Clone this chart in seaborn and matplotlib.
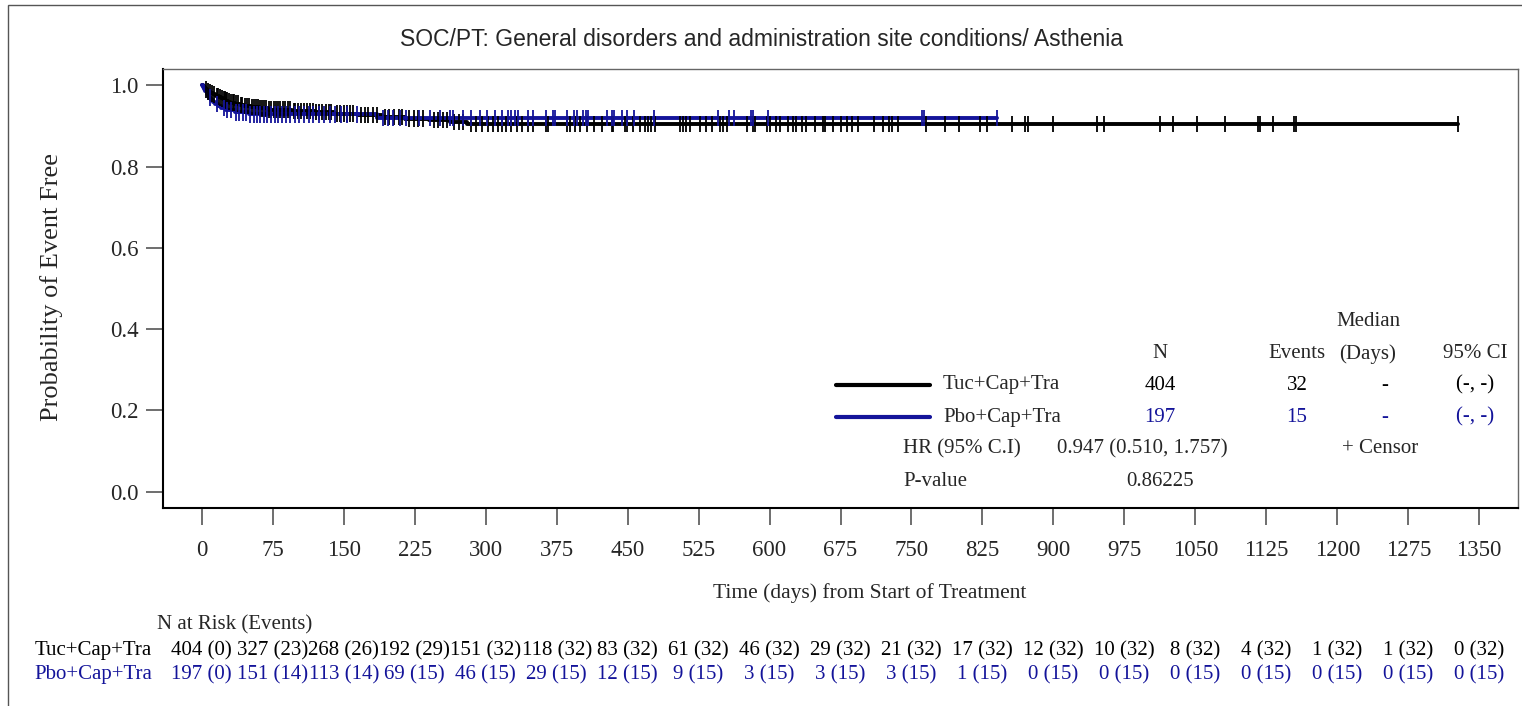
import numpy as np
import pandas as pd
import seaborn as sns
import matplotlib.pyplot as plt
import matplotlib.transforms as mtransforms
from matplotlib.lines import Line2D
from matplotlib.patches import Rectangle

title = "SOC/PT: General disorders and administration site conditions/ Asthenia"
arm_names = ["Tuc+Cap+Tra", "Pbo+Cap+Tra"]
arm_colors = ["black", "#14149a"]

# step points: event day and survival after it
tuc_days = [0, 1, 2, 3, 5, 6, 8, 10, 12, 14, 15, 18, 20, 22, 25, 28, 30, 35, 40, 45,
            52, 60, 70, 95, 120, 140, 165, 190, 215, 240, 262, 280]
tuc_surv = [1.0, 0.9975, 0.9950, 0.9901, 0.9876, 0.9851, 0.9826, 0.9801, 0.9776, 0.9751,
            0.9726, 0.9701, 0.9676, 0.9651, 0.9625, 0.9599, 0.9573, 0.9546, 0.9519, 0.9491,
            0.9462, 0.9433, 0.9403, 0.9372, 0.9340, 0.9305, 0.9265, 0.9222, 0.9178, 0.9140,
            0.9095, 0.9050]
tuc_censor = [4, 7, 9, 11, 13, 16, 17, 19, 21, 23, 24, 26, 27, 29, 31, 33, 34, 36, 38, 41,
              43, 46, 48, 50, 53, 55, 57, 59, 62, 64, 66, 68, 71, 73, 76, 78, 81, 83, 86, 88,
              91, 93, 97, 99, 102, 105, 108, 111, 114, 117, 121, 124, 127, 131, 134, 137, 143,
              146, 150, 153, 157, 160, 168, 172, 176, 181, 185, 194, 198, 203, 208, 212, 219,
              224, 229, 234, 245, 250, 255, 259, 267, 272, 276, 285, 290, 296, 302, 308, 313,
              317, 322, 327, 333, 338, 345, 350, 364, 366, 386, 389, 394, 400, 407, 414, 423,
              433, 435, 447, 449, 456, 463, 468, 472, 475, 479, 505, 509, 512, 516, 526, 533,
              539, 548, 551, 555, 576, 583, 585, 597, 600, 607, 611, 620, 625, 628, 634, 639,
              648, 657, 659, 667, 675, 682, 687, 694, 710, 720, 726, 729, 736, 765, 785, 800,
              822, 830, 856, 870, 873, 900, 946, 954, 1013, 1026, 1052, 1081, 1116, 1118, 1132,
              1154, 1156, 1328]

pbo_days = [0, 1, 2, 3, 5, 7, 8, 10, 12, 14, 17, 20, 26, 35, 50, 185]
pbo_surv = [1.0, 0.9949, 0.9898, 0.9848, 0.9797, 0.9746, 0.9695, 0.9645, 0.9594, 0.9543,
            0.9491, 0.9440, 0.9388, 0.9335, 0.9285, 0.9192]
pbo_censor = [9, 16, 23, 27, 31, 36, 39, 44, 47, 51, 55, 58, 62, 66, 69, 73, 77, 81, 85, 89,
              93, 98, 103, 108, 113, 118, 124, 129, 135, 141, 147, 153, 164, 192, 197, 202,
              209, 216, 230, 241, 252, 262, 266, 276, 285, 294, 301, 310, 317, 324, 327, 331,
              334, 345, 350, 364, 371, 373, 386, 393, 396, 403, 406, 408, 428, 433, 436, 444,
              449, 457, 478, 546, 557, 562, 580, 583, 598, 761, 763, 840]

risk_days = [0, 75, 150, 225, 300, 375, 450, 525, 600, 675, 750, 825, 900, 975, 1050,
             1125, 1200, 1275, 1350]
tuc_risk = [404, 327, 268, 192, 151, 118, 83, 61, 46, 29, 21, 17, 12, 10, 8, 4, 1, 1, 0]
tuc_events = [0, 23, 26, 29, 32, 32, 32, 32, 32, 32, 32, 32, 32, 32, 32, 32, 32, 32, 32]
pbo_risk = [197, 151, 113, 69, 46, 29, 12, 9, 3, 3, 3, 1, 0, 0, 0, 0, 0, 0, 0]
pbo_events = [0, 14, 14, 15, 15, 15, 15, 15, 15, 15, 15, 15, 15, 15, 15, 15, 15, 15, 15]

n_total = [404, 197]
n_events = [32, 15]
median_txt = ["-", "-"]
ci_txt = ["(-, -)", "(-, -)"]
hr_txt = "0.947 (0.510, 1.757)"
p_txt = "0.86225"

sns.set_style("white")
plt.rcParams['font.family'] = ['Liberation Serif', 'DejaVu Serif']

W, H = 1522, 706
fig = plt.figure(figsize=(W / 100, H / 100), dpi=100)
ax = fig.add_axes([163 / W, 1 - 508 / H, (1518 - 163) / W, (508 - 69) / H])


def fx(px):
    return px / W


def fy(py):
    return 1 - py / H


curves = []
marks = []
for name, days, surv, cens in [(arm_names[0], tuc_days, tuc_surv, tuc_censor),
                               (arm_names[1], pbo_days, pbo_surv, pbo_censor)]:
    d = list(days) + [cens[-1]]
    s = list(surv) + [surv[-1]]
    curves.append(pd.DataFrame({'arm': name, 'day': d, 'surv': s}))
    idx = np.searchsorted(days, cens, side='right') - 1
    marks.append(pd.DataFrame({'arm': name, 'day': cens, 'surv': np.array(surv)[idx]}))
curves = pd.concat(curves)
marks = pd.concat(marks)
pal = dict(zip(arm_names, arm_colors))

sns.lineplot(data=curves, x='day', y='surv', hue='arm', palette=pal, drawstyle='steps-post',
             estimator=None, legend=False, linewidth=2.8, ax=ax)
sns.scatterplot(data=marks, x='day', y='surv', hue='arm', palette=pal, marker='|', s=140,
                linewidth=1.3, legend=False, ax=ax, zorder=3)

ax.set_xlim(-41, 1391)
ax.set_ylim(-0.04, 1.04)
ax.set_xticks(risk_days)
ax.set_xticklabels([str(d) for d in risk_days])
ax.set_yticks([0, 0.2, 0.4, 0.6, 0.8, 1.0])
ax.set_yticklabels(['0.0', '0.2', '0.4', '0.6', '0.8', '1.0'])
ax.tick_params(axis='both', bottom=True, left=True, direction='out', length=12, width=1.2,
               color='#555555', labelsize=16.5)
ax.tick_params(axis='y', pad=5.5)
ax.tick_params(axis='x', pad=11)
ax.set_xlabel('')
ax.set_ylabel('')
for side in ['left', 'bottom']:
    ax.spines[side].set_color('black')
    ax.spines[side].set_linewidth(1.5)
for side in ['top', 'right']:
    ax.spines[side].set_color('#666666')
    ax.spines[side].set_linewidth(1.0)

# outer frame
fig.patches.append(Rectangle((fx(8), fy(760)), 1.1, fy(5) - fy(760), transform=fig.transFigure,
                             fill=False, edgecolor='#555555', linewidth=1.0))

fig.text(0.5, fy(40), title, family=['Liberation Sans', 'DejaVu Sans'], fontsize=16.5,
         ha='center', va='center')
fig.text(fx(52), fy(287), 'Probability of Event Free', rotation=90, fontsize=19,
         ha='center', va='center')
fig.text(fx(870), fy(593), 'Time (days) from Start of Treatment', fontsize=15.5,
         ha='center', va='center')

# legend table
fs = 15
fig.text(fx(1368), fy(321), 'Median', fontsize=fs, ha='center', va='center')
for label, xc in [('N', 1160), ('Events', 1297), ('(Days)', 1368), ('95% CI', 1475)]:
    fig.text(fx(xc), fy(354), label, fontsize=fs, ha='center', va='center')
for i, yc in enumerate([385, 417]):
    col = arm_colors[i]
    fig.add_artist(Line2D([fx(836), fx(930)], [fy(yc), fy(yc)], color=col, linewidth=3,
                          transform=fig.transFigure))
    fig.text(fx(943), fy(yc), arm_names[i], fontsize=fs, ha='left', va='center')
    fig.text(fx(1160), fy(yc), str(n_total[i]), fontsize=fs, ha='center', va='center', color=col)
    fig.text(fx(1297), fy(yc), str(n_events[i]), fontsize=fs, ha='center', va='center', color=col)
    fig.text(fx(1385), fy(yc), median_txt[i], fontsize=fs, ha='center', va='center', color=col)
    fig.text(fx(1475), fy(yc), ci_txt[i], fontsize=fs, ha='center', va='center', color=col)
fig.text(fx(903), fy(449), 'HR (95% C.I)', fontsize=fs, ha='left', va='center')
fig.text(fx(1057), fy(449), hr_txt, fontsize=fs, ha='left', va='center')
fig.text(fx(1380), fy(449), '+ Censor', fontsize=fs, ha='center', va='center')
fig.text(fx(903), fy(481), 'P-value', fontsize=fs, ha='left', va='center')
fig.text(fx(1160), fy(481), p_txt, fontsize=fs, ha='center', va='center')

# number at risk table
tr = mtransforms.blended_transform_factory(ax.transData, fig.transFigure)
fig.text(fx(157), fy(625), 'N at Risk (Events)', fontsize=fs, ha='left', va='center')
for i, (risk, ev, yc) in enumerate([(tuc_risk, tuc_events, 651), (pbo_risk, pbo_events, 675)]):
    col = arm_colors[i]
    fig.text(fx(152), fy(yc), arm_names[i], fontsize=fs, ha='right', va='center', color=col)
    for d, r, e in zip(risk_days, risk, ev):
        ax.text(d, fy(yc), f'{r} ({e})', transform=tr, fontsize=fs, ha='center', va='center',
                color=col, clip_on=False)

fig.savefig('out.png', dpi=100)
